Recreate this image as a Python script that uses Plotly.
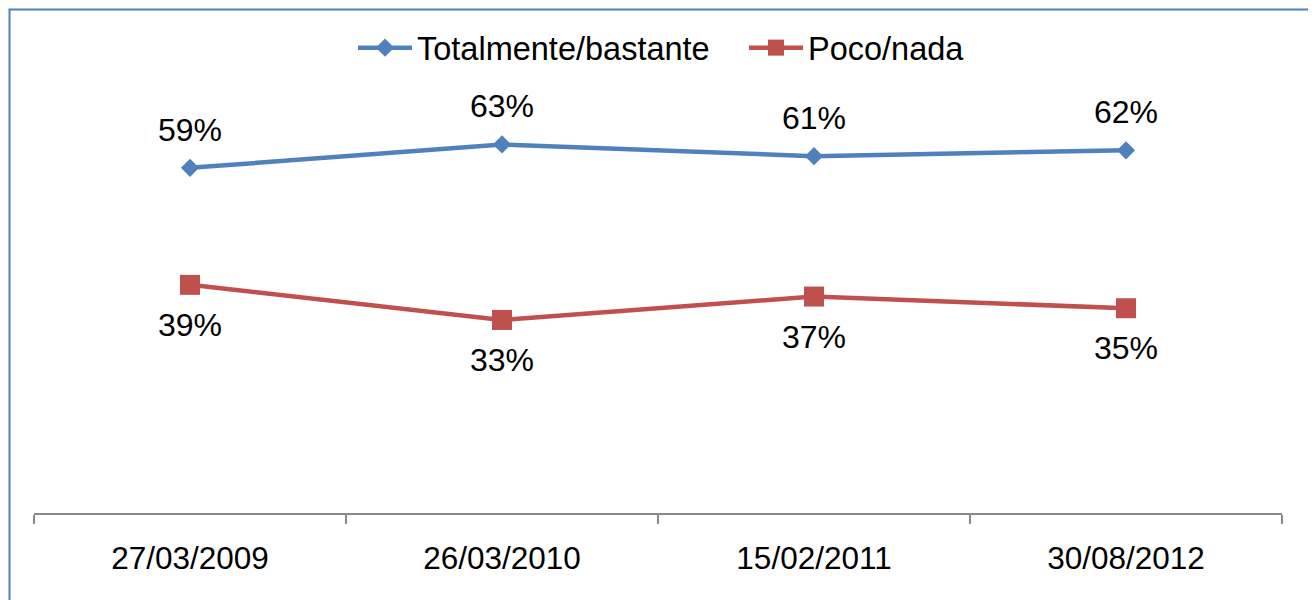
import plotly.graph_objects as go

categories = ["27/03/2009", "26/03/2010", "15/02/2011", "30/08/2012"]
totalmente = [59, 63, 61, 62]
poco = [39, 33, 37, 35]
series_names = ["Totalmente/bastante", "Poco/nada"]

BLUE = "#4F81BD"
RED = "#C0504D"
FONT = "Arial, Liberation Sans, sans-serif"

# page body has an 8px margin; compensate so the chart lands where the reference has it
OFF = 8
W, H = 1316 - OFF, 600 - OFF
ML, MT = 34 - OFF, 45 - OFF
MR = W - (1282 - OFF)
MB = H - (513 - OFF)
pw, ph = W - ML - MR, H - MT - MB

def sx(px):
    return (px - OFF - ML) / pw

def sy(py):
    return 1 + (MT - (py - OFF)) / ph

fig = go.Figure()
fig.add_trace(go.Scatter(
    x=categories, y=totalmente, name=series_names[0], mode="lines+markers",
    line=dict(color=BLUE, width=4.5),
    marker=dict(symbol="diamond", size=14, color=BLUE),
    legend="legend",
))
fig.add_trace(go.Scatter(
    x=categories, y=poco, name=series_names[1], mode="lines+markers",
    line=dict(color=RED, width=4.5),
    marker=dict(symbol="square", size=20, color=RED),
    legend="legend2",
))

for c, v in zip(categories, totalmente):
    fig.add_annotation(x=c, y=v, text=f"{v}%", showarrow=False, yshift=38,
                       font=dict(family=FONT, size=32, color="#000000"))
for c, v in zip(categories, poco):
    fig.add_annotation(x=c, y=v, text=f"{v}%", showarrow=False, yshift=-40,
                       font=dict(family=FONT, size=32, color="#000000"))

fig.add_shape(type="rect", xref="paper", yref="paper",
              x0=sx(9.5), x1=sx(1310),
              y0=sy(630), y1=sy(9.5),
              line=dict(color=BLUE, width=2), fillcolor="rgba(0,0,0,0)", layer="below")

leg_common = dict(orientation="h", yanchor="middle", xanchor="left",
                  font=dict(family=FONT, size=32.5, color="#000000"),
                  bgcolor="rgba(0,0,0,0)", itemwidth=54)

fig.update_layout(
    width=W, height=H,
    margin=dict(l=ML, r=MR, t=MT, b=MB),
    paper_bgcolor="white", plot_bgcolor="white",
    font=dict(family=FONT, size=31, color="#000000"),
    showlegend=True,
    legend=dict(x=sx(353), y=sy(48), **leg_common),
    legend2=dict(x=sx(744), y=sy(48), **leg_common),
    xaxis=dict(type="category", range=[-0.5, 3.5], showgrid=False, zeroline=False,
               showline=True, linecolor="#898989", linewidth=1.5,
               ticks="outside", tickson="boundaries", ticklen=9, tickcolor="#898989",
               tickwidth=1.5, ticklabelstandoff=16,
               tickfont=dict(family=FONT, size=31.5, color="#000000")),
    yaxis=dict(range=[0, 80], visible=False, showgrid=False, zeroline=False),
)

fig.write_html("out.html")
